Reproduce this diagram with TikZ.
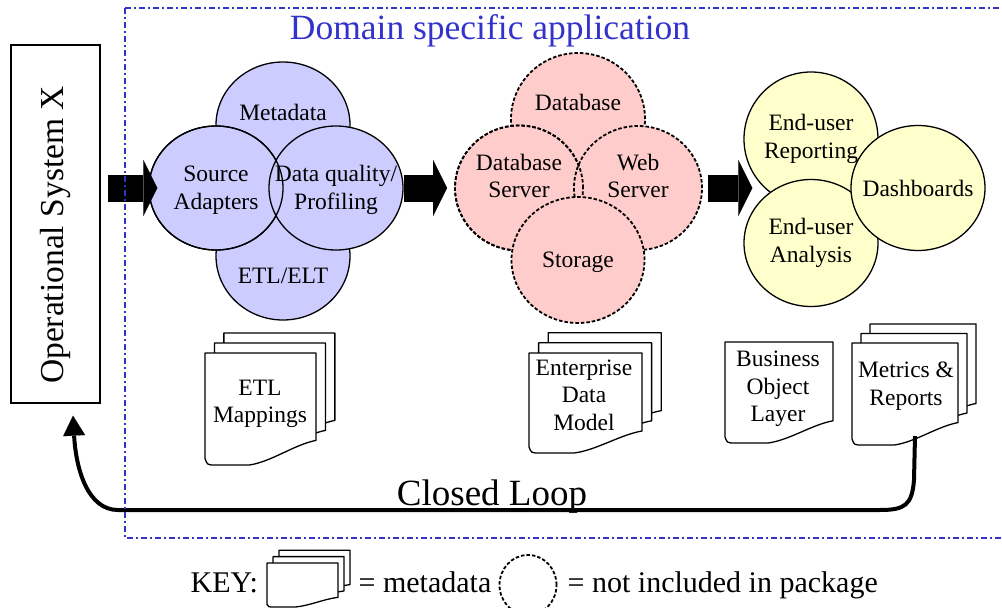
\documentclass[tikz,border=0pt]{standalone}
\usepackage{fontspec}
\setmainfont{Liberation Serif}
\usetikzlibrary{arrows.meta,shapes.geometric}

\definecolor{frameblue}{RGB}{51,51,204}
\definecolor{lavender}{RGB}{204,204,255}
\definecolor{rosepink}{RGB}{255,204,204}
\definecolor{paleyellow}{RGB}{255,255,204}

% one sheet with a torn bottom: x, y (top left), width, height
\newcommand{\docpage}[4]{%
  \filldraw[fill=white,line width=1.3pt,line join=round]
    ({#1},{#2}) -- ({#1+#3},{#2}) -- ({#1+#3},{#2+0.78*#4})
    .. controls ({#1+0.8*#3},{#2+0.82*#4}) and ({#1+0.6*#3},{#2+0.97*#4}) .. ({#1+0.4*#3},{#2+#4})
    -- ({#1+0.1*#3},{#2+#4})
    .. controls ({#1+0.02*#3},{#2+#4}) .. ({#1},{#2+0.94*#4}) -- cycle;}
% three sheets stacked
\newcommand{\docstack}[4]{%
  \docpage{#1+0.17*#3}{#2-0.18*#3}{#3}{#4}
  \docpage{#1+0.085*#3}{#2-0.09*#3}{#3}{#4}
  \docpage{#1}{#2}{#3}{#4}}

\begin{document}
\begin{tikzpicture}[x=1pt,y=-1pt,line width=1.3pt]
\tikzstyle{every node}=[font=\fontsize{23.5}{27.5}\selectfont,align=center]
\tikzstyle{blob}=[ellipse,inner sep=0pt,minimum width=134pt,minimum height=126pt]
\tikzstyle{loading}=[blob,draw,fill=lavender]
\tikzstyle{notincl}=[blob,draw,fill=rosepink,dash pattern=on 3.5pt off 2pt,line width=1.8pt]
\tikzstyle{frontend}=[blob,draw,fill=paleyellow]
\tikzstyle{fatarrow}=[line width=27pt,-{Triangle[length=14pt,width=56pt,line width=0.1pt]}]
\tikzstyle{loopline}=[line width=4pt,-{Triangle[length=20pt,width=22pt,line width=0.1pt]}]
\tikzstyle{keyfont}=[font=\fontsize{30}{32}\selectfont]

\useasboundingbox (0,0) rectangle (1002,608);
\clip (0,0) rectangle (1002,608);

% source system
\node[draw,inner sep=0pt,minimum width=89pt,minimum height=358pt] (opsys) at (55.5,224) {};
\node[rotate=90,font=\fontsize{33.5}{36}\selectfont] (opsystxt) at (55,235) {Operational System X};

% loading
\node[loading,label={[yshift=13pt]center:Metadata}] (meta) at (283,125) {};
\node[loading,minimum height=128pt,label={[yshift=-20pt]center:ETL/ELT}] (etl) at (283,256) {};
\node[loading,minimum height=124pt,label={[yshift=-2pt]center:Source\\Adapters}] (src) at (216,188) {};
\node[loading,minimum height=124pt,label={[yshift=-2pt]center:Data quality/\\Profiling}] (dq) at (336,188) {};
\draw (src.center) ellipse [x radius=67pt,y radius=62pt];

% storage, not in the package
\node[notincl,minimum height=132pt,label={[yshift=17pt]center:Database}] (db) at (578,119) {};
\node[notincl,minimum width=128pt,minimum height=125pt,label={[yshift=12pt]center:Database\\Server}] (dbsrv) at (519,188) {};
\node[notincl,minimum width=128pt,minimum height=124pt,label={[yshift=12pt]center:Web\\Server}] (web) at (638,188) {};
\draw[dash pattern=on 3.5pt off 2pt,line width=1.8pt] (dbsrv.center) ellipse [x radius=64pt,y radius=62.5pt];
\node[notincl,minimum width=133pt,label={[yshift=-2pt]center:Storage}] (stor) at (578,260) {};

% front end
\node[frontend,minimum height=134pt,label={center:End-user\\Reporting}] (rep) at (811,139) {};
\node[frontend,minimum height=127pt,label={center:End-user\\Analysis}] (ana) at (811,243) {};
\node[frontend,minimum height=125pt,label={center:Dashboards}] (dash) at (918,188) {};

% flow
\draw[fatarrow] ([xshift=7pt]opsys.east |- src.west) -- ([xshift=9pt]src.west);
\draw[fatarrow] (dq.east) -- ([xshift=-7pt]dbsrv.west);
\draw[fatarrow] ([xshift=5pt]web.east) -- ([xshift=9pt]rep.west |- web.east);

% metadata documents
\docstack{205}{353}{111}{112}
\node (etlmap) at (260,404) {ETL\\Mappings};
\docstack{529}{353}{113}{100}
\node (edm) at (584,395) {Enterprise\\Data\\Model};
\docpage{725}{342}{108}{101}
\node (bol) at (778,389) {Business\\Object\\Layer};
\docstack{852}{343}{106}{102}
\node (metrics) at (906,386) {Metrics \&\\Reports};

% closed loop back to the source
\coordinate (loopstart) at (915,436);
\draw[loopline] (loopstart) -- (914,480) .. controls (912,505) and (905,510) .. (880,510)
  -- (118,510) .. controls (88,510) and (76,470) .. ([xshift=17.5pt,yshift=-12pt]opsys.south);
\node[anchor=base,font=\fontsize{37}{40}\selectfont] (loop) at (492,505) {Closed Loop};

% application frame
\draw[frameblue,line width=2pt,dash pattern=on 6pt off 3pt on 2pt off 3pt] (125,8) rectangle (1012,538);
\node[anchor=base,text=frameblue,font=\fontsize{35.5}{38}\selectfont] (title) at (490,39) {Domain specific application};

% key
\node[keyfont,anchor=base west,inner sep=0pt] (keytxt) at (190,592) {KEY:};
\docstack{267}{563}{71}{44}
\node[keyfont,anchor=base west,inner sep=0pt] (keymeta) at (358,592) {= metadata};
\node[ellipse,draw,dash pattern=on 3.5pt off 2pt,line width=1.8pt,inner sep=0pt,minimum width=57pt,minimum height=60pt] (keycirc) at (528,585) {};
\node[keyfont,anchor=base west,inner sep=0pt] (keypkg) at (567,592) {= not included in package};
\end{tikzpicture}
\end{document}
